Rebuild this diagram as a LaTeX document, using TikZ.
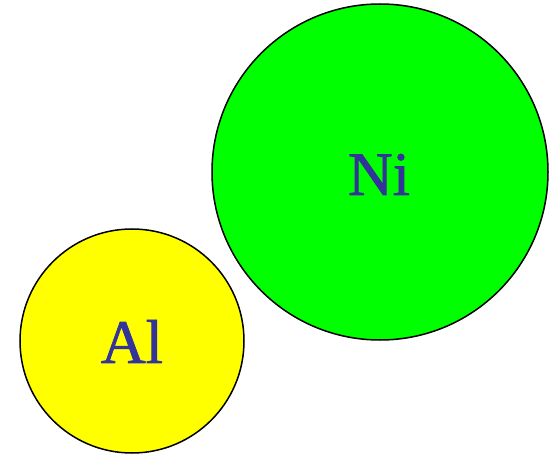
\documentclass[tikz,border=0pt]{standalone}
\usepackage{fontspec}
\setmainfont{Liberation Serif}
\newfontfamily\labfont[FakeBold=1.2]{Liberation Serif}
\definecolor{lbl}{RGB}{51,51,153}
\definecolor{nigreen}{RGB}{0,255,0}
\definecolor{alyellow}{RGB}{255,255,0}
\begin{document}
\begin{tikzpicture}[x=1pt,y=1pt,
  atom/.style={circle,draw=black,line width=1.5pt,inner sep=0pt},
  lab/.style={text=lbl,font=\labfont\fontsize{62}{70}\selectfont,anchor=base,inner sep=0pt}]
\useasboundingbox (0,0) rectangle (555,456);
\node[atom,fill=nigreen,minimum size=336pt] (ni) at (380,284) {};
\node[atom,fill=alyellow,minimum size=224pt] (al) at (132,115) {};
\node[lab] (nit) at (379,261) {Ni};
\node[lab] (alt) at (132,93) {Al};
\end{tikzpicture}
\end{document}
